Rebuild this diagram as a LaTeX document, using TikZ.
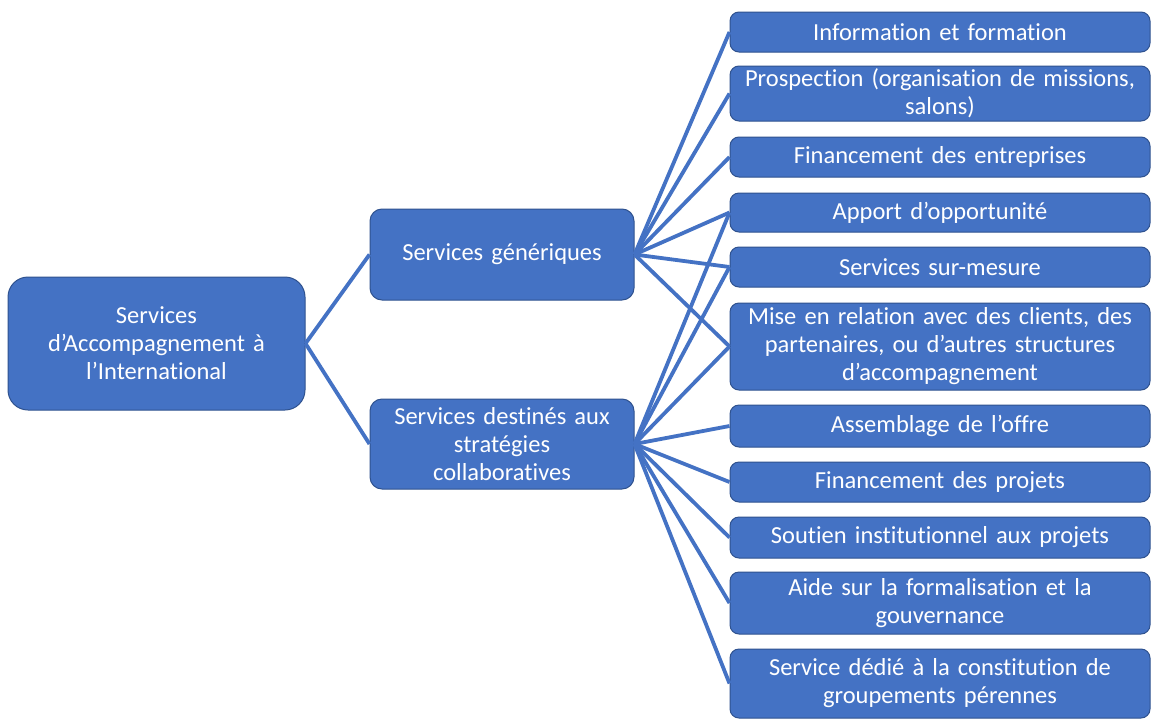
\documentclass[tikz,border=0pt]{standalone}
\usepackage{fontspec}
\setmainfont{Carlito}[Ligatures=NoCommon]
\definecolor{boxblue}{HTML}{4472C4}
\definecolor{boxedge}{HTML}{2F528F}
\begin{document}
\begin{tikzpicture}[x=1pt,y=-1pt,
  box/.style={draw=boxedge,line width=1pt,fill=boxblue,rounded corners=#1,
    text=white,align=center,inner sep=0pt,
    font=\fontsize{24.5}{28}\selectfont},
  box/.default=9pt,
  rbox/.style={box,minimum width=420pt,text width=415pt},
  link/.style={draw=boxblue,line width=3.8pt}]
\useasboundingbox (0,0) rectangle (1158,720);
\fill[white] (0,0) rectangle (1158,720);
\node[box=20pt,minimum width=297pt,minimum height=133pt,text width=285pt] (root) at (156.5,343.5)
  {Services\\d’Accompagnement à\\l’International};
\node[box=12pt,minimum width=264pt,minimum height=91pt,text width=258pt] (sg) at (502,254.5)
  {Services génériques};
\node[box=12pt,minimum width=264pt,minimum height=90pt,text width=258pt] (sd) at (502,444)
  {Services destinés aux\\stratégies\\collaboratives};
\node[rbox,minimum height=40pt] (r1) at (940,32) {Information et formation};
\node[rbox,minimum height=55pt] (r2) at (940,93.5) {Prospection (organisation de missions,\\salons)};
\node[rbox,minimum height=40pt] (r3) at (940,157) {Financement des entreprises};
\node[rbox,minimum height=39pt] (r4) at (940,212.5) {Apport d’opportunité};
\node[rbox,minimum height=40pt] (r5) at (940,267) {Services sur-mesure};
\node[rbox,minimum height=87pt] (r6) at (940,346.5) {Mise en relation avec des clients, des\\partenaires, ou d’autres structures\\d’accompagnement};
\node[rbox,minimum height=42pt] (r7) at (940,426) {Assemblage de l’offre};
\node[rbox,minimum height=40pt] (r8) at (940,482) {Financement des projets};
\node[rbox,minimum height=41pt] (r9) at (940,537.5) {Soutien institutionnel aux projets};
\node[rbox,minimum height=62pt] (r10) at (940,603) {Aide sur la formalisation et la\\gouvernance};
\node[rbox,minimum height=69pt] (r11) at (940,683.5) {Service dédié à la constitution de\\groupements pérennes};
\draw[link] (root.east) -- (sg.west);
\draw[link] (root.east) -- (sd.west);
\foreach \i in {1,...,6} \draw[link] (sg.east) -- (r\i.west);
\foreach \i in {4,...,11} \draw[link] (sd.east) -- (r\i.west);
\end{tikzpicture}
\end{document}
